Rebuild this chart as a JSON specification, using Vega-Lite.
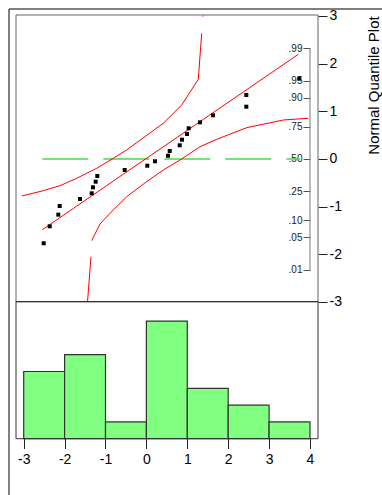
{
  "$schema": "https://vega.github.io/schema/vega-lite/v6.json",
  "width": 373,
  "height": 486,
  "padding": {"left": 9, "top": 9, "right": 0, "bottom": 0},
  "autosize": {"type": "none"},
  "background": "white",
  "config": {
    "view": {"stroke": null},
    "axis": {"labelFont": "Liberation Sans", "titleFont": "Liberation Sans", "grid": false}
  },
  "datasets": {
    "points": [
      {"x": -2.511, "q": -1.768}, {"x": -2.364, "q": -1.412}, {"x": -2.154, "q": -1.168},
      {"x": -2.120, "q": -0.986}, {"x": -1.623, "q": -0.839}, {"x": -1.337, "q": -0.720},
      {"x": -1.306, "q": -0.594}, {"x": -1.240, "q": -0.476}, {"x": -1.200, "q": -0.357},
      {"x": -0.531, "q": -0.231}, {"x": 0.022, "q": -0.141}, {"x": 0.210, "q": -0.048},
      {"x": 0.528, "q": 0.069}, {"x": 0.570, "q": 0.168}, {"x": 0.814, "q": 0.287},
      {"x": 0.870, "q": 0.405}, {"x": 0.993, "q": 0.524}, {"x": 1.034, "q": 0.644},
      {"x": 1.311, "q": 0.769}, {"x": 1.628, "q": 0.917}, {"x": 2.443, "q": 1.097},
      {"x": 2.443, "q": 1.343}, {"x": 3.738, "q": 1.686}
    ],
    "curves": [
      {"part": "upper1", "i": 1, "x": -3.042, "q": -0.776},
      {"part": "upper1", "i": 2, "x": -2.521, "q": -0.665},
      {"part": "upper1", "i": 3, "x": -2.112, "q": -0.560},
      {"part": "upper1", "i": 4, "x": -1.704, "q": -0.405},
      {"part": "upper1", "i": 5, "x": -1.215, "q": -0.195},
      {"part": "upper1", "i": 6, "x": -0.809, "q": 0.015},
      {"part": "upper1", "i": 7, "x": -0.482, "q": 0.189},
      {"part": "upper1", "i": 8, "x": 0.413, "q": 0.749},
      {"part": "upper1", "i": 9, "x": 0.863, "q": 1.133},
      {"part": "upper1", "i": 10, "x": 1.269, "q": 1.672},
      {"part": "upper1", "i": 11, "x": 1.352, "q": 2.637},
      {"part": "upper2", "i": 1, "x": 1.377, "q": 2.985},
      {"part": "upper2", "i": 2, "x": 1.384, "q": 3.01},
      {"part": "lower1", "i": 1, "x": -1.44, "q": -3.0},
      {"part": "lower1", "i": 2, "x": -1.355, "q": -2.05},
      {"part": "lower2", "i": 1, "x": -1.337, "q": -1.713},
      {"part": "lower2", "i": 2, "x": -1.134, "q": -1.363},
      {"part": "lower2", "i": 3, "x": -0.890, "q": -1.139},
      {"part": "lower2", "i": 4, "x": -0.482, "q": -0.791},
      {"part": "lower2", "i": 5, "x": 0.007, "q": -0.476},
      {"part": "lower2", "i": 6, "x": 0.413, "q": -0.231},
      {"part": "lower2", "i": 7, "x": 0.822, "q": -0.021},
      {"part": "lower2", "i": 8, "x": 1.311, "q": 0.258},
      {"part": "lower2", "i": 9, "x": 1.719, "q": 0.413},
      {"part": "lower2", "i": 10, "x": 2.452, "q": 0.657},
      {"part": "lower2", "i": 11, "x": 3.347, "q": 0.818},
      {"part": "lower2", "i": 12, "x": 3.958, "q": 0.854},
      {"part": "fit", "i": 1, "x": -2.545, "q": -1.483},
      {"part": "fit", "i": 2, "x": 3.714, "q": 2.196}
    ],
    "median": [
      {"x": -2.545, "q": 0},
      {"x": 3.755, "q": 0}
    ]
  },
  "resolve": {"scale": {"y": "independent"}, "axis": {"x": "independent", "y": "independent"}},
  "layer": [
    {
      "data": {"values": [{}]},
      "mark": {"type": "rect", "fillOpacity": 0, "stroke": "#666", "strokeWidth": 1},
      "encoding": {
        "x": {"datum": -3.188, "type": "quantitative", "scale": {"domain": [-3.3594, 5.7604], "nice": false, "zero": false}, "axis": null},
        "x2": {"datum": 4.196},
        "y": {"datum": -3, "type": "quantitative", "scale": {"domain": [-7.049, 3.1466], "nice": false, "zero": false}, "axis": null},
        "y2": {"datum": 3.021}
      }
    },
    {
      "data": {"values": [{}]},
      "mark": {"type": "rule", "stroke": "#777", "strokeWidth": 1},
      "encoding": {
        "x": {"datum": 4.0, "type": "quantitative", "scale": {"domain": [-3.3594, 5.7604], "nice": false, "zero": false}, "axis": null},
        "y": {
          "datum": -2.3263, "type": "quantitative",
          "scale": {"domain": [-7.049, 3.1466], "nice": false, "zero": false},
          "axis": {
            "orient": "left", "offset": -301, "title": null, "domain": false,
            "values": [-2.3263, -1.6449, -1.2816, -0.6745, 0, 0.6745, 1.2816, 1.6449, 2.3263],
            "labelExpr": "datum.value < -2 ? '.01' : datum.value < -1.5 ? '.05' : datum.value < -1 ? '.10' : datum.value < -0.5 ? '.25' : datum.value < 0.5 ? '.50' : datum.value < 1 ? '.75' : datum.value < 1.5 ? '.90' : datum.value < 2 ? '.95' : '.99'",
            "tickSize": 7, "tickColor": "#555", "labelPadding": 1,
            "labelFontSize": 10, "labelColor": "#222"
          }
        },
        "y2": {"datum": 2.3263}
      }
    },
    {
      "data": {"name": "median"},
      "mark": {"type": "line", "stroke": "#44dd44", "strokeWidth": 1.5, "strokeDash": [46, 15]},
      "encoding": {
        "x": {"field": "x", "type": "quantitative", "scale": {"domain": [-3.3594, 5.7604], "nice": false, "zero": false}, "axis": null},
        "y": {"field": "q", "type": "quantitative", "scale": {"domain": [-7.049, 3.1466], "nice": false, "zero": false}, "axis": null}
      }
    },
    {
      "data": {"name": "curves"},
      "mark": {"type": "line", "stroke": "#ff0000", "strokeWidth": 1},
      "encoding": {
        "x": {"field": "x", "type": "quantitative", "scale": {"domain": [-3.3594, 5.7604], "nice": false, "zero": false}, "axis": null},
        "y": {"field": "q", "type": "quantitative", "scale": {"domain": [-7.049, 3.1466], "nice": false, "zero": false}, "axis": null},
        "detail": {"field": "part"},
        "order": {"field": "i"}
      }
    },
    {
      "data": {"name": "points"},
      "transform": [
        {"bin": {"extent": [-3, 4], "step": 1}, "field": "x", "as": ["b0", "b1"]},
        {"aggregate": [{"op": "count", "as": "n"}], "groupby": ["b0", "b1"]}
      ],
      "mark": {"type": "bar", "fill": "#80ff80", "stroke": "#333", "strokeWidth": 1.2},
      "encoding": {
        "x": {
          "field": "b0", "type": "quantitative",
          "scale": {"domain": [-3.3594, 5.7604], "nice": false, "zero": false},
          "axis": {
            "orient": "bottom", "offset": -56.5, "title": null, "domain": false,
            "values": [-3, -2, -1, 0, 1, 2, 3, 4],
            "labelExpr": "'' + datum.value",
            "tickSize": 10, "tickColor": "#222", "labelPadding": 4,
            "labelFontSize": 14, "labelColor": "#000"
          }
        },
        "x2": {"field": "b1"},
        "y": {"field": "n", "type": "quantitative", "scale": {"domain": [-3.351, 25.577], "nice": false, "zero": false}, "axis": null},
        "y2": {"datum": 0}
      }
    },
    {
      "data": {"values": [{}]},
      "mark": {"type": "rect", "fillOpacity": 0, "stroke": "#333", "strokeWidth": 1},
      "encoding": {
        "x": {"datum": -3.188, "type": "quantitative", "scale": {"domain": [-3.3594, 5.7604], "nice": false, "zero": false}, "axis": null},
        "x2": {"datum": 4.196},
        "y": {"datum": 0, "type": "quantitative", "scale": {"domain": [-3.351, 25.577], "nice": false, "zero": false}, "axis": null},
        "y2": {"datum": 8.167}
      }
    },
    {
      "data": {"name": "points"},
      "mark": {"type": "square", "size": 16, "color": "#000", "opacity": 1},
      "encoding": {
        "x": {"field": "x", "type": "quantitative", "scale": {"domain": [-3.3594, 5.7604], "nice": false, "zero": false}, "axis": null},
        "y": {
          "field": "q", "type": "quantitative",
          "scale": {"domain": [-7.049, 3.1466], "nice": false, "zero": false},
          "axis": {
            "orient": "right", "offset": -64, "domain": false,
            "values": [-3, -2, -1, 0, 1, 2, 3],
            "labelExpr": "'' + datum.value",
            "tickSize": 9, "tickColor": "#222", "labelPadding": 2,
            "labelFontSize": 14, "labelColor": "#000",
            "title": "Normal Quantile Plot", "titleFontSize": 15, "titleFontWeight": "normal",
            "titleColor": "#000", "titleAngle": 270, "titleAlign": "center",
            "titleBaseline": "alphabetic", "titleX": 60, "titleY": 76
          }
        }
      }
    },
    {
      "data": {"values": [{}]},
      "mark": {"type": "rule", "stroke": "#000", "strokeWidth": 1},
      "encoding": {
        "x": {"datum": -3.3594, "type": "quantitative", "scale": {"domain": [-3.3594, 5.7604], "nice": false, "zero": false}, "axis": null}
      }
    },
    {
      "data": {"values": [{}]},
      "mark": {"type": "rule", "stroke": "#000", "strokeWidth": 1},
      "encoding": {
        "y": {"datum": 3.1466, "type": "quantitative", "scale": {"domain": [-7.049, 3.1466], "nice": false, "zero": false}, "axis": null}
      }
    }
  ]
}
